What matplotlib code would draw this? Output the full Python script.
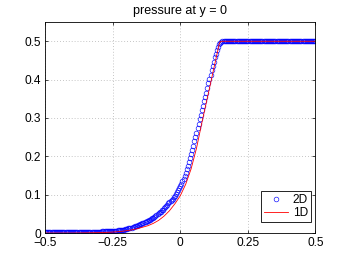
# pressure profile along y = 0, 2D run against 1D reference

import numpy as np
import matplotlib as mpl
mpl.use('Agg')
import matplotlib.pyplot as plt

plt.rcParams['font.family'] = ['Liberation Sans', 'DejaVu Sans']

# 2D solution, one value per grid point (251 points on [-0.5, 0.5])
p_2d = [
    # x = -0.5 ... -0.304
    0.002, 0.002, 0.002, 0.002, 0.002, 0.002, 0.002, 0.002, 0.002, 0.002,
    0.002, 0.002, 0.002, 0.002, 0.002, 0.002, 0.002, 0.002, 0.002, 0.002,
    0.002, 0.002, 0.002, 0.002, 0.002, 0.003, 0.003, 0.003, 0.003, 0.003,
    0.003, 0.003, 0.003, 0.003, 0.003, 0.003, 0.003, 0.003, 0.003, 0.003,
    0.003, 0.003, 0.003, 0.003, 0.003, 0.003, 0.003, 0.003, 0.003, 0.003,
    # x = -0.3 ... 0.156
    0.003, 0.003, 0.003, 0.004, 0.004,
    0.004, 0.004, 0.004, 0.005, 0.005,
    0.005, 0.005, 0.005, 0.006, 0.006,
    0.006, 0.006, 0.007, 0.007, 0.008,
    0.008, 0.008, 0.009, 0.009, 0.010,
    0.010, 0.011, 0.012, 0.012, 0.013,
    0.014, 0.015, 0.016, 0.017, 0.018,
    0.019, 0.020, 0.021, 0.023, 0.024,
    0.025, 0.026, 0.028, 0.029, 0.031,
    0.032, 0.034, 0.035, 0.037, 0.038,
    0.040, 0.042, 0.044, 0.047, 0.049,
    0.051, 0.054, 0.056, 0.059, 0.061,
    0.064, 0.067, 0.070, 0.074, 0.077,
    0.080, 0.083, 0.087, 0.090, 0.094,
    0.097, 0.102, 0.107, 0.112, 0.117,
    0.122, 0.129, 0.136, 0.142, 0.149,
    0.156, 0.166, 0.176, 0.185, 0.195,
    0.205, 0.216, 0.228, 0.239, 0.251,
    0.262, 0.274, 0.285, 0.297, 0.308,
    0.320, 0.332, 0.343, 0.355, 0.366,
    0.378, 0.390, 0.401, 0.413, 0.424,
    0.436, 0.447, 0.458, 0.468, 0.477,
    0.486, 0.492, 0.496, 0.499, 0.500,
    # x = 0.16 ... 0.5
    0.5, 0.5, 0.5, 0.5, 0.5, 0.5, 0.5, 0.5, 0.5, 0.5,
    0.5, 0.5, 0.5, 0.5, 0.5, 0.5, 0.5, 0.5, 0.5, 0.5,
    0.5, 0.5, 0.5, 0.5, 0.5, 0.5, 0.5, 0.5, 0.5, 0.5,
    0.5, 0.5, 0.5, 0.5, 0.5, 0.5, 0.5, 0.5, 0.5, 0.5,
    0.5, 0.5, 0.5, 0.5, 0.5, 0.5, 0.5, 0.5, 0.5, 0.5,
    0.5, 0.5, 0.5, 0.5, 0.5, 0.5, 0.5, 0.5, 0.5, 0.5,
    0.5, 0.5, 0.5, 0.5, 0.5, 0.5, 0.5, 0.5, 0.5, 0.5,
    0.5, 0.5, 0.5, 0.5, 0.5, 0.5, 0.5, 0.5, 0.5, 0.5,
    0.5, 0.5, 0.5, 0.5, 0.5, 0.5,
]
x_2d = np.linspace(-0.5, 0.5, len(p_2d))

# 1D reference solution
x_1d = [-0.5, -0.4, -0.3, -0.26, -0.22, -0.18, -0.16, -0.14, -0.12, -0.10,
        -0.08, -0.06, -0.04, -0.02, 0.0, 0.02, 0.04, 0.06, 0.08, 0.10,
        0.12, 0.14, 0.144, 0.148, 0.152, 0.2, 0.3, 0.4, 0.5]
p_1d = [0.0, 0.0, 0.001, 0.002, 0.004, 0.008, 0.011, 0.015, 0.019, 0.025,
        0.033, 0.044, 0.058, 0.076, 0.097, 0.127, 0.167, 0.221, 0.288, 0.352,
        0.416, 0.480, 0.493, 0.499, 0.5, 0.5, 0.5, 0.5, 0.5]

xticks = [-0.5, -0.25, 0, 0.25, 0.5]
xticklabels = ['\u22120.5', '\u22120.25', '0', '0.25', '0.5']
yticks = [0, 0.1, 0.2, 0.3, 0.4, 0.5]
yticklabels = ['0', '0.1', '0.2', '0.3', '0.4', '0.5']


def plotPressure():
    fig = plt.figure(figsize=(3.49, 2.63), dpi=100)
    ax = fig.add_axes([0.129, 0.114, 0.775, 0.802])

    ax.plot(x_2d, p_2d, 'o', color='b', markerfacecolor='none',
            markersize=3.4, markeredgewidth=0.45, label='2D')
    ax.plot(x_1d, p_1d, '-', color='r', linewidth=0.6, label='1D')

    ax.set_xlim(-0.5, 0.5)
    ax.set_ylim(0, 0.55)
    ax.set_xticks(xticks)
    ax.set_xticklabels(xticklabels)
    ax.set_yticks(yticks)
    ax.set_yticklabels(yticklabels)
    ax.tick_params(direction='in', length=2.5, width=0.5, labelsize=8.6,
                   top=True, right=True, pad=3)
    for sp in ax.spines.values():
        sp.set_linewidth(0.6)

    ax.grid(True, linestyle=(0, (1, 2.5)), color='0.7', linewidth=0.6)
    ax.set_title('pressure at y = 0', fontsize=9, pad=6)

    leg = ax.legend(loc='lower right', bbox_to_anchor=(0.983, 0.052),
                    borderaxespad=0, fontsize=8.6, fancybox=False,
                    edgecolor='black', framealpha=1, borderpad=0.25,
                    labelspacing=0.1, handlelength=2.0, handletextpad=0.4)
    leg.get_frame().set_linewidth(0.6)

    plt.savefig('out.png', dpi=100)


def main():
    plotPressure()


if __name__ == '__main__':
    main()
